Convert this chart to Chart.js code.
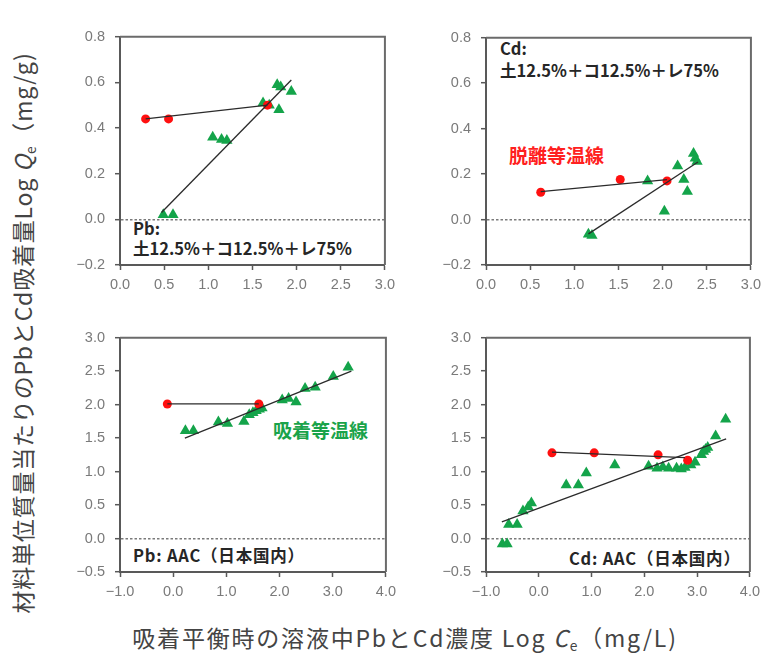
<!DOCTYPE html>
<html lang="ja">
<head>
<meta charset="utf-8">
<title>Pb / Cd 吸着・脱離等温線</title>
<script src="https://cdn.jsdelivr.net/npm/chart.js@4.4.1/dist/chart.umd.min.js"></script>
<style>
  html, body { margin: 0; padding: 0; background: #fff; }
  #stage { position: relative; width: 761px; height: 653px; overflow: hidden;
           font-family: "Noto Sans CJK JP", "Noto Sans", sans-serif; }
  #stage canvas { position: absolute; }
  .note { position: absolute; white-space: nowrap; font-weight: bold; color: #262626;
          font-size: 16.5px; line-height: 20px; }
  .iso { position: absolute; white-space: nowrap; font-weight: bold; font-size: 19px; line-height: 24px; }
  #yTitle { position: absolute; width: 680px; left: -318px; top: 318px; height: 30px; line-height: 30px;
            text-align: center; transform: rotate(-90deg); font-size: 23px; letter-spacing: 0.8px;
            color: #444; white-space: nowrap; }
  #xTitle { position: absolute; width: 700px; left: 55px; top: 622px; height: 30px; line-height: 30px;
            text-align: center; font-size: 23px; letter-spacing: 1.8px; color: #444; white-space: nowrap; }
  sub { font-size: 60%; vertical-align: -0.3em; }
</style>
</head>
<body>
<div id="stage">
  <div class="note" style="left:133px; top:218px;">Pb:</div>
  <div class="note" style="left:133px; top:238px;">土12.5%＋コ12.5%＋レ75%</div>
  <div class="note" style="left:500px; top:38px;">Cd:</div>
  <div class="note" style="left:500px; top:60px;">土12.5%＋コ12.5%＋レ75%</div>
  <div class="iso" style="left:509px; top:143px; color:#ff2020;">脱離等温線</div>
  <div class="iso" style="left:273px; top:418px; color:#1aa34a;">吸着等温線</div>
  <div class="note" style="left:133px; top:545px; letter-spacing:0.8px;">Pb: AAC（日本国内）</div>
  <div class="note" style="left:569px; top:548px; letter-spacing:0.8px;">Cd: AAC（日本国内）</div>
  <div id="yTitle">材料単位質量当たりのPbとCd吸着量Log <i>Q</i><sub>e</sub>（mg/g)</div>
  <div id="xTitle">吸着平衡時の溶液中PbとCd濃度 Log <i>C</i><sub>e</sub>（mg/L)</div>
</div>
<script>
// ---- data (log values) ----
// Pb, 土12.5%+コ12.5%+レ75%
const pbMixAdsX = [0.49, 0.60, 1.05, 1.15, 1.21, 1.62, 1.69, 1.78, 1.82, 1.80, 1.94];
const pbMixAdsY = [0.02, 0.02, 0.36, 0.35, 0.345, 0.51, 0.50, 0.59, 0.58, 0.48, 0.56];
const pbMixDesX = [0.29, 0.55, 1.67];
const pbMixDesY = [0.44, 0.44, 0.50];
const pbMixAdsFitX = [0.47, 1.94];
const pbMixAdsFitY = [0.03, 0.61];
const pbMixDesFitX = [0.29, 1.67];
const pbMixDesFitY = [0.44, 0.50];

// Cd, 土12.5%+コ12.5%+レ75%
const cdMixAdsX = [1.16, 1.20, 1.83, 2.02, 2.17, 2.24, 2.28, 2.35, 2.37, 2.39];
const cdMixAdsY = [-0.065, -0.07, 0.17, 0.037, 0.235, 0.176, 0.123, 0.29, 0.27, 0.255];
const cdMixDesX = [0.62, 1.52, 2.05];
const cdMixDesY = [0.12, 0.176, 0.17];
const cdMixAdsFitX = [1.16, 2.40];
const cdMixAdsFitY = [-0.063, 0.253];
const cdMixDesFitX = [0.62, 2.05];
const cdMixDesFitY = [0.123, 0.176];

// Pb, AAC (日本国内)
const pbAacAdsX = [0.23, 0.38, 0.85, 1.02, 1.33, 1.43, 1.50, 1.56, 1.62, 1.67, 2.05, 2.17, 2.31, 2.48, 2.67, 3.01, 3.29];
const pbAacAdsY = [1.61, 1.61, 1.74, 1.72, 1.75, 1.85, 1.88, 1.91, 1.93, 1.95, 2.07, 2.09, 2.04, 2.24, 2.26, 2.42, 2.56];
const pbAacDesX = [-0.11, 1.61];
const pbAacDesY = [2.01, 2.01];
const pbAacAdsFitX = [0.22, 3.35];
const pbAacAdsFitY = [1.50, 2.50];
const pbAacDesFitX = [-0.11, 1.61];
const pbAacDesFitY = [2.01, 2.01];

// Cd, AAC (日本国内)
const cdAacAdsX = [-0.69, -0.60, -0.57, -0.41, -0.30, -0.20, -0.14, 0.52, 0.75, 0.90, 1.44, 2.08, 2.24, 2.35, 2.46, 2.61, 2.70, 2.77, 2.88, 2.96, 3.08, 3.12, 3.16, 3.20, 3.35, 3.54];
const cdAacAdsY = [-0.08, -0.08, 0.21, 0.21, 0.41, 0.47, 0.53, 0.80, 0.80, 0.98, 1.10, 1.08, 1.05, 1.07, 1.05, 1.05, 1.04, 1.06, 1.10, 1.14, 1.25, 1.30, 1.33, 1.36, 1.53, 1.78];
const cdAacDesX = [0.25, 1.05, 2.26, 2.82];
const cdAacDesY = [1.28, 1.28, 1.25, 1.17];
const cdAacAdsFitX = [-0.70, 3.55];
const cdAacAdsFitY = [0.25, 1.49];
const cdAacDesFitX = [0.25, 2.77];
const cdAacDesFitY = [1.29, 1.21];

// axis ranges / tick steps
const mixXRange = { min: 0, max: 3, step: 0.5 };
const mixYRange = { min: -0.2, max: 0.8, step: 0.2 };
const aacXRange = { min: -1, max: 4, step: 1 };
const aacYRange = { min: -0.5, max: 3, step: 0.5 };

// ---- styling ----
const AXIS_COLOR = "#595959";
const FRAME_COLOR = "#6b6b6b";
const TICK_COLOR = "#7a7a7a";
const ZERO_COLOR = "#7a7a7a";
const RED = "#ff1010";
const GREEN = "#14a44a";
const FIT_COLOR = "#2b2b2b";
const Y_AXIS_W = 70, X_AXIS_H = 40, PAD_T = 14, PAD_R = 14;

const zip = (xs, ys) => xs.map((x, i) => ({ x, y: ys[i] }));
const fmt = (v) => (v < 0 ? "\u2212" : "") + Math.abs(v).toFixed(1);

// top + right border of each plot box
const framePlugin = {
  id: "frame",
  beforeDatasetsDraw(chart) {
    const { ctx, chartArea: a } = chart;
    ctx.save();
    ctx.strokeStyle = FRAME_COLOR;
    ctx.lineWidth = 2;
    ctx.beginPath();
    ctx.moveTo(a.left, a.top);
    ctx.lineTo(a.right, a.top);
    ctx.lineTo(a.right, a.bottom);
    ctx.stroke();
    ctx.restore();
  },
};

function makePanel(area, xr, yr, s) {
  const w = area.right - area.left + Y_AXIS_W + PAD_R;
  const h = area.bottom - area.top + PAD_T + X_AXIS_H;
  const cv = document.createElement("canvas");
  cv.width = w; cv.height = h;
  cv.style.left = (area.left - Y_AXIS_W) + "px";
  cv.style.top = (area.top - PAD_T) + "px";
  cv.style.width = w + "px"; cv.style.height = h + "px";
  document.getElementById("stage").appendChild(cv);

  const tickFont = { family: "'Liberation Sans', Arial, sans-serif", size: 14.5 };
  const fitLine = (data) => ({
    data, showLine: true, pointRadius: 0, borderColor: FIT_COLOR, borderWidth: 1.3, fill: false,
  });

  return new Chart(cv.getContext("2d"), {
    type: "scatter",
    data: {
      datasets: [
        fitLine(zip(s.adsFitX, s.adsFitY)),
        fitLine(zip(s.desFitX, s.desFitY)),
        { data: zip(s.desX, s.desY), pointStyle: "circle", pointRadius: 4.5,
          backgroundColor: RED, borderColor: RED, borderWidth: 0 },
        { data: zip(s.adsX, s.adsY), pointStyle: "triangle", pointRadius: 6.5,
          backgroundColor: GREEN, borderColor: GREEN, borderWidth: 0 },
      ],
    },
    options: {
      responsive: false,
      animation: false,
      layout: { padding: { top: PAD_T, right: PAD_R, left: 0, bottom: 0 } },
      plugins: { legend: { display: false }, tooltip: { enabled: false } },
      scales: {
        x: {
          type: "linear", min: xr.min, max: xr.max,
          afterFit: (sc) => { sc.height = X_AXIS_H; },
          ticks: { stepSize: xr.step, color: TICK_COLOR, font: tickFont, padding: 6,
                   maxRotation: 0, autoSkip: false, callback: fmt },
          grid: { drawOnChartArea: false, tickLength: 5, tickColor: AXIS_COLOR, tickWidth: 1.5 },
          border: { color: AXIS_COLOR, width: 2 },
        },
        y: {
          type: "linear", min: yr.min, max: yr.max,
          afterFit: (sc) => { sc.width = Y_AXIS_W; },
          ticks: { stepSize: yr.step, color: TICK_COLOR, font: tickFont, padding: 10, callback: fmt },
          grid: {
            color: (c) => (c.tick && Math.abs(c.tick.value) < 1e-9 ? ZERO_COLOR : "rgba(0,0,0,0)"),
            lineWidth: 1.4, tickLength: 5, tickColor: AXIS_COLOR, tickWidth: 1.5,
          },
          border: { color: AXIS_COLOR, width: 2, dash: [2.5, 2] },
        },
      },
    },
    plugins: [framePlugin],
  });
}

makePanel({ left: 120, top: 32, right: 387, bottom: 265 }, mixXRange, mixYRange, {
  adsX: pbMixAdsX, adsY: pbMixAdsY, desX: pbMixDesX, desY: pbMixDesY,
  adsFitX: pbMixAdsFitX, adsFitY: pbMixAdsFitY, desFitX: pbMixDesFitX, desFitY: pbMixDesFitY,
});
makePanel({ left: 486, top: 33, right: 753, bottom: 265 }, mixXRange, mixYRange, {
  adsX: cdMixAdsX, adsY: cdMixAdsY, desX: cdMixDesX, desY: cdMixDesY,
  adsFitX: cdMixAdsFitX, adsFitY: cdMixAdsFitY, desFitX: cdMixDesFitX, desFitY: cdMixDesFitY,
});
makePanel({ left: 120, top: 333, right: 388, bottom: 572 }, aacXRange, aacYRange, {
  adsX: pbAacAdsX, adsY: pbAacAdsY, desX: pbAacDesX, desY: pbAacDesY,
  adsFitX: pbAacAdsFitX, adsFitY: pbAacAdsFitY, desFitX: pbAacDesFitX, desFitY: pbAacDesFitY,
});
makePanel({ left: 486, top: 333, right: 752, bottom: 572 }, aacXRange, aacYRange, {
  adsX: cdAacAdsX, adsY: cdAacAdsY, desX: cdAacDesX, desY: cdAacDesY,
  adsFitX: cdAacAdsFitX, adsFitY: cdAacAdsFitY, desFitX: cdAacDesFitX, desFitY: cdAacDesFitY,
});
</script>
</body>
</html>
